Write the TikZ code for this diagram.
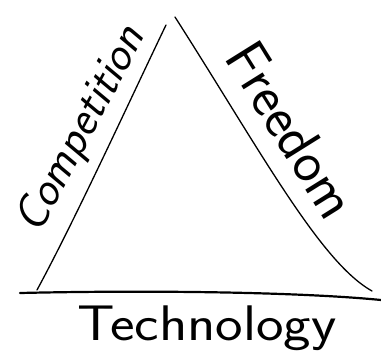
\documentclass[tikz,border=0pt]{standalone}
\begin{document}
\begin{tikzpicture}[x=1pt,y=-1pt,
  side/.style={line width=1.3pt, line cap=round},
  base/.style={line width=2.2pt, line cap=round},
  hand/.style={inner sep=0pt}]
\useasboundingbox (0,0) rectangle (381,359);
\coordinate (apL) at (166,25);
\coordinate (apR) at (175,17);
\coordinate (bl) at (37,290);
\coordinate (br) at (372,291);
\coordinate (b0) at (20,293);
\coordinate (b1) at (381,300);
\draw[side] (bl) .. controls (75,220) and (130,100) .. (apL);
\draw[side] (apR) .. controls (260,150) and (320,262) .. (br);
\draw[base] (b0) .. controls (150,290) and (300,292) .. (b1);
\node[hand, rotate=62, font=\sffamily\itshape\fontsize{47}{54}\selectfont] (comp) at (82,130) {Competition};
\node[hand, rotate=-58, font=\sffamily\fontsize{58}{64}\selectfont] (free) at (292,130) {Freedom};
\node[hand, xscale=1.17, font=\sffamily\fontsize{50}{56}\selectfont] (tech) at (207,328) {Technology};
\end{tikzpicture}
\end{document}
